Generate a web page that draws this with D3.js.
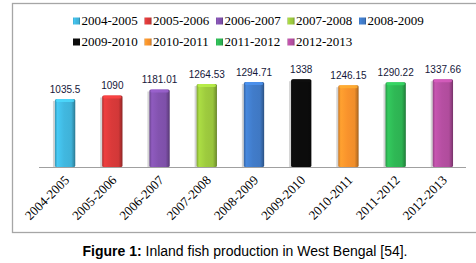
<!DOCTYPE html>
<html>
<head>
<meta charset="utf-8">
<script src="https://cdn.jsdelivr.net/npm/d3@7"></script>
<style>
    body { margin: 0; background: #fff; }
    svg { display: block; }
</style>
</head>
<body>
<script>
// Inland fish production in West Bengal, one bar per year

const years = ["2004-2005", "2005-2006", "2006-2007", "2007-2008", "2008-2009",
    "2009-2010", "2010-2011", "2011-2012", "2012-2013"]
const production = [1035.5, 1090, 1181.01, 1264.53, 1294.71, 1338, 1246.15, 1290.22, 1337.66]
const labels = ["1035.5", "1090", "1181.01", "1264.53", "1294.71", "1338", "1246.15", "1290.22", "1337.66"]
const colors = ["#3fb2d8", "#d23838", "#7e50a9", "#98c43c", "#3f78c3",
    "#0c0c0c", "#f08e2a", "#2db252", "#b04c9c"]

const width = 476,
    height = 263

const svg = d3.select("body").append("svg")
    .attr("width", width)
    .attr("height", height)

const defs = svg.append("defs")

// one glossy gradient per colour
colors.forEach((c, i) => {
    const g = defs.append("linearGradient")
        .attr("id", `grad-${i}`)
        .attr("x1", "0%").attr("x2", "100%")
        .attr("y1", "0%").attr("y2", "0%")
    const base = d3.color(c)
    const stops = [
        [0, base.darker(0.5)],
        [0.12, base.brighter(0.35)],
        [0.45, base.brighter(0.1)],
        [0.8, base],
        [0.93, base.darker(0.6)],
        [1, base.darker(1.2)]
    ]
    stops.forEach(([o, col]) => {
        g.append("stop").attr("offset", o).attr("stop-color", col.formatHex())
    })
})

// frame round the chart
svg.append("rect")
    .attr("x", 12.5)
    .attr("y", 3.5)
    .attr("width", 480)
    .attr("height", 229)
    .attr("fill", "none")
    .attr("stroke", "#a6a6a6")
    .attr("stroke-width", 1.3)

const x = d3.scaleBand()
    .domain(years)
    .range([41.5, 466.5])
    .paddingInner(0.57)
    .paddingOuter(0.285)

const y = d3.scaleLinear()
    .domain([0, 1600])
    .range([167, 62])

const data = years.map((yr, i) => ({ year: yr, value: production[i], label: labels[i], i: i }))

const bars = svg.selectAll("g.bar")
    .data(data)
    .join("g")
    .attr("class", "bar")

// soft shadow on the left side
bars.append("rect")
    .attr("x", (d) => x(d.year) - 2)
    .attr("y", (d) => y(d.value) + 2)
    .attr("width", 3)
    .attr("height", (d) => y(0) - y(d.value) - 2)
    .attr("fill", "#d4d4d4")

bars.append("rect")
    .attr("x", (d) => x(d.year))
    .attr("y", (d) => y(d.value))
    .attr("width", x.bandwidth())
    .attr("height", (d) => y(0) - y(d.value))
    .attr("rx", 1.5)
    .attr("fill", (d) => `url(#grad-${d.i})`)

// lighter cap on top
bars.append("rect")
    .attr("x", (d) => x(d.year) + 1)
    .attr("y", (d) => y(d.value))
    .attr("width", x.bandwidth() - 2)
    .attr("height", 3)
    .attr("rx", 1.5)
    .attr("fill", (d) => d3.color(colors[d.i]).brighter(0.6).formatHex())
    .attr("opacity", 0.8)

bars.append("text")
    .attr("x", (d) => x(d.year) + x.bandwidth() / 2)
    .attr("y", (d) => y(d.value) - 6)
    .attr("text-anchor", "middle")
    .attr("font-family", "'Liberation Sans', Arial, sans-serif")
    .attr("font-size", 10)
    .attr("fill", "#14173a")
    .text((d) => d.label)

// baseline
svg.append("line")
    .attr("x1", 39)
    .attr("x2", 466)
    .attr("y1", y(0) + 0.5)
    .attr("y2", y(0) + 0.5)
    .attr("stroke", "#a0a0a0")
    .attr("stroke-width", 1)

// rotated category labels
svg.selectAll("text.xlab")
    .data(years)
    .join("text")
    .attr("class", "xlab")
    .attr("transform", (d) => `translate(${x(d) + x.bandwidth() / 2 + 5},${181}) rotate(-45)`)
    .attr("text-anchor", "end")
    .attr("font-family", "'Liberation Serif', 'Times New Roman', serif")
    .attr("font-size", 13)
    .attr("fill", "#000")
    .text((d) => d)

// legend, two rows
const legend = svg.append("g")
const perRow = 5
const items = legend.selectAll("g")
    .data(years)
    .join("g")
    .attr("transform", (d, i) => `translate(${73 + (i % perRow) * 71.5},${Math.floor(i / perRow) * 21 + 25})`)

items.append("rect")
    .attr("x", 0)
    .attr("y", -7.5)
    .attr("width", 7)
    .attr("height", 7)
    .attr("fill", (d, i) => `url(#grad-${i})`)

items.append("text")
    .attr("x", 8.5)
    .attr("y", 0)
    .attr("font-family", "'Liberation Serif', 'Times New Roman', serif")
    .attr("font-size", 13)
    .attr("fill", "#000")
    .text((d) => d)

// caption under the frame
const caption = svg.append("text")
    .attr("x", 245)
    .attr("y", 256)
    .attr("text-anchor", "middle")
    .attr("font-family", "'Liberation Sans', Arial, sans-serif")
    .attr("font-size", 14)
    .attr("fill", "#000")
caption.append("tspan").attr("font-weight", "bold").text("Figure 1:")
caption.append("tspan").text(" Inland fish production in West Bengal [54].")
</script>
</body>
</html>
